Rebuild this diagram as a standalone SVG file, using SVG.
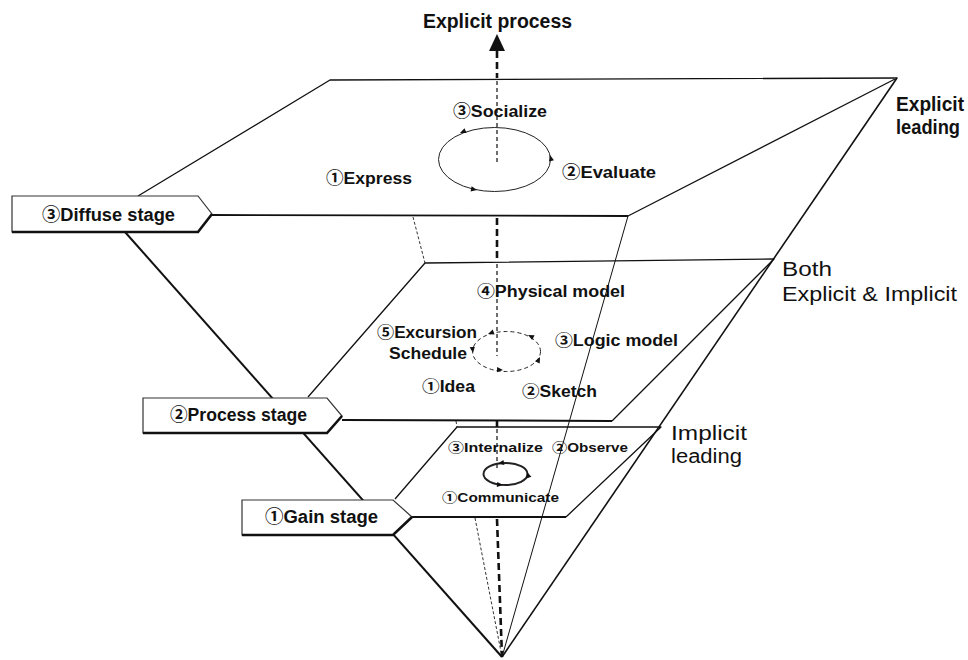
<svg xmlns="http://www.w3.org/2000/svg" xmlns:xlink="http://www.w3.org/1999/xlink" width="968" height="660" viewBox="0 0 968 660">
<style>
.ln{fill:none;stroke:#111;stroke-width:1.3;stroke-linejoin:round}
.thk{fill:none;stroke:#111;stroke-width:2}
.hid{fill:none;stroke:#333;stroke-width:1;stroke-dasharray:3 2}
.axis{fill:none;stroke:#111;stroke-width:2.6;stroke-dasharray:7 4}
.axin{fill:none;stroke:#222;stroke-width:1.3;stroke-dasharray:4 3}
.cyc{fill:none;stroke:#222;stroke-width:1}
.box{fill:#fff;stroke:#333;stroke-width:1.2;stroke-linejoin:miter}
.boxb{fill:none;stroke:#111;stroke-width:2.6}
.t{font-family:"Liberation Sans","Noto Sans CJK KR",sans-serif;font-weight:bold;fill:#111}
.r{font-family:"Liberation Sans","Noto Sans CJK KR",sans-serif;font-weight:normal;fill:#111}
</style>
<defs>
<path id="ah" d="M0,0 L-6,-2.6 L-6,2.6 Z" fill="#111"/>
</defs>
<rect width="968" height="660" fill="#fff"/>

<g id="connectors">
  <line class="ln" x1="897" y1="78" x2="502" y2="657" style="stroke-width:1.6"/>
  <line class="ln" x1="628" y1="216" x2="502" y2="657" style="stroke-width:1"/>
  <line class="thk" x1="125" y1="232" x2="502" y2="657"/>
  <line class="hid" x1="413" y1="217" x2="425" y2="263"/>
  <line class="hid" x1="456" y1="421" x2="457" y2="427"/>
  <line class="hid" x1="475" y1="518" x2="502" y2="657"/>
  <path d="M497,34 L489,51 L505,51 Z" fill="#111"/>
  <line class="axis" x1="497" y1="51" x2="497" y2="78"/>
  <line class="axin" x1="497" y1="81" x2="497" y2="165"/>
  <line class="axis" x1="497" y1="218" x2="497" y2="262"/>
  <line class="axin" x1="497" y1="264" x2="497" y2="356"/>
  <line class="axis" x1="497" y1="421" x2="497" y2="427"/>
  <line class="axin" x1="497" y1="429" x2="497" y2="470"/>
  <line class="axis" x1="497" y1="519" x2="502" y2="657"/>
</g>

<g id="diffuse-plane">
  <polyline class="ln" points="138,196 330,80 897,78 628,216"/>
  <line class="ln" x1="212" y1="215" x2="628" y2="216" style="stroke-width:1.8"/>
  <ellipse class="cyc" cx="494.5" cy="159.5" rx="56" ry="32"/>
  <use xlink:href="#ah" transform="translate(460,133) rotate(157)"/>
  <use xlink:href="#ah" transform="translate(550,155) rotate(-104)"/>
  <use xlink:href="#ah" transform="translate(477,190) rotate(11)"/>
  <text class="t" x="453" y="117" font-size="17" textLength="94" lengthAdjust="spacingAndGlyphs">③Socialize</text>
  <text class="t" x="326" y="184" font-size="17" textLength="86" lengthAdjust="spacingAndGlyphs">①Express</text>
  <text class="t" x="562" y="178" font-size="17" textLength="94" lengthAdjust="spacingAndGlyphs">②Evaluate</text>
</g>

<g id="process-plane">
  <polyline class="ln" points="308,397 425,263 774,259 612,421"/>
  <line class="ln" x1="342" y1="420" x2="612" y2="421" style="stroke-width:2"/>
  <ellipse class="cyc" cx="506.5" cy="351.5" rx="34" ry="20" style="stroke-dasharray:4 3"/>
  <use xlink:href="#ah" transform="translate(488,334) rotate(160)"/>
  <use xlink:href="#ah" transform="translate(528,335) rotate(-154)"/>
  <use xlink:href="#ah" transform="translate(473,353) rotate(83)"/>
  <use xlink:href="#ah" transform="translate(503,370) rotate(3)"/>
  <use xlink:href="#ah" transform="translate(540,357) rotate(-64)"/>
  <text class="t" x="477" y="297" font-size="16" textLength="148" lengthAdjust="spacingAndGlyphs">④Physical model</text>
  <text class="t" x="377" y="338" font-size="16" textLength="100" lengthAdjust="spacingAndGlyphs">⑤Excursion</text>
  <text class="t" x="389" y="359" font-size="16" textLength="78" lengthAdjust="spacingAndGlyphs">Schedule</text>
  <text class="t" x="555" y="346" font-size="16" textLength="123" lengthAdjust="spacingAndGlyphs">③Logic model</text>
  <text class="t" x="422" y="392" font-size="16" textLength="53" lengthAdjust="spacingAndGlyphs">①Idea</text>
  <text class="t" x="522" y="397" font-size="16" textLength="75" lengthAdjust="spacingAndGlyphs">②Sketch</text>
</g>

<g id="gain-plane">
  <polyline class="ln" points="395,499 457,427 661,427 566,517"/>
  <line class="ln" x1="412" y1="517" x2="566" y2="517" style="stroke-width:2"/>
  <ellipse class="cyc" cx="505.5" cy="474" rx="22" ry="11" style="stroke-width:2"/>
  <use xlink:href="#ah" transform="translate(498,463.5) rotate(170)"/>
  <use xlink:href="#ah" transform="translate(527,472) rotate(-109)"/>
  <use xlink:href="#ah" transform="translate(503,485) rotate(5)"/>
  <text class="t" x="448" y="452" font-size="13" textLength="95" lengthAdjust="spacingAndGlyphs">③Internalize</text>
  <text class="t" x="552" y="452" font-size="13" textLength="76" lengthAdjust="spacingAndGlyphs">②Observe</text>
  <text class="t" x="442" y="502" font-size="13" textLength="117" lengthAdjust="spacingAndGlyphs">①Communicate</text>
</g>

<g id="diffuse-stage">
  <polygon class="box" points="12,196 198,196 212,214 198,232 12,232"/>
  <polyline class="boxb" points="12,232 198,232 212,214"/>
  <text class="t" x="42" y="221" font-size="18" textLength="133" lengthAdjust="spacingAndGlyphs">③Diffuse stage</text>
</g>
<g id="process-stage">
  <polygon class="box" points="143,398 327,398 342,416 327,433 143,433"/>
  <polyline class="boxb" points="143,433 327,433 342,416"/>
  <text class="t" x="170" y="421" font-size="18" textLength="137" lengthAdjust="spacingAndGlyphs">②Process stage</text>
</g>
<g id="gain-stage">
  <polygon class="box" points="242,500 393,500 412,517 393,535 242,535"/>
  <polyline class="boxb" points="242,535 393,535 412,517"/>
  <text class="t" x="265" y="523" font-size="18" textLength="113" lengthAdjust="spacingAndGlyphs">①Gain stage</text>
</g>

<g id="title">
  <text class="t" x="423" y="28" font-size="19.5" textLength="149" lengthAdjust="spacingAndGlyphs">Explicit process</text>
</g>
<g id="explicit-leading">
  <text class="t" x="896" y="111" font-size="19.5" textLength="68" lengthAdjust="spacingAndGlyphs">Explicit</text>
  <text class="t" x="896" y="134" font-size="19.5" textLength="64" lengthAdjust="spacingAndGlyphs">leading</text>
</g>
<g id="both">
  <text class="r" x="782" y="276" font-size="20.5" textLength="50" lengthAdjust="spacingAndGlyphs">Both</text>
  <text class="r" x="782" y="301" font-size="20.5" textLength="175" lengthAdjust="spacingAndGlyphs">Explicit &amp; Implicit</text>
</g>
<g id="implicit-leading">
  <text class="r" x="671" y="440" font-size="20" textLength="76" lengthAdjust="spacingAndGlyphs">Implicit</text>
  <text class="r" x="671" y="463" font-size="20" textLength="71" lengthAdjust="spacingAndGlyphs">leading</text>
</g>
</svg>
